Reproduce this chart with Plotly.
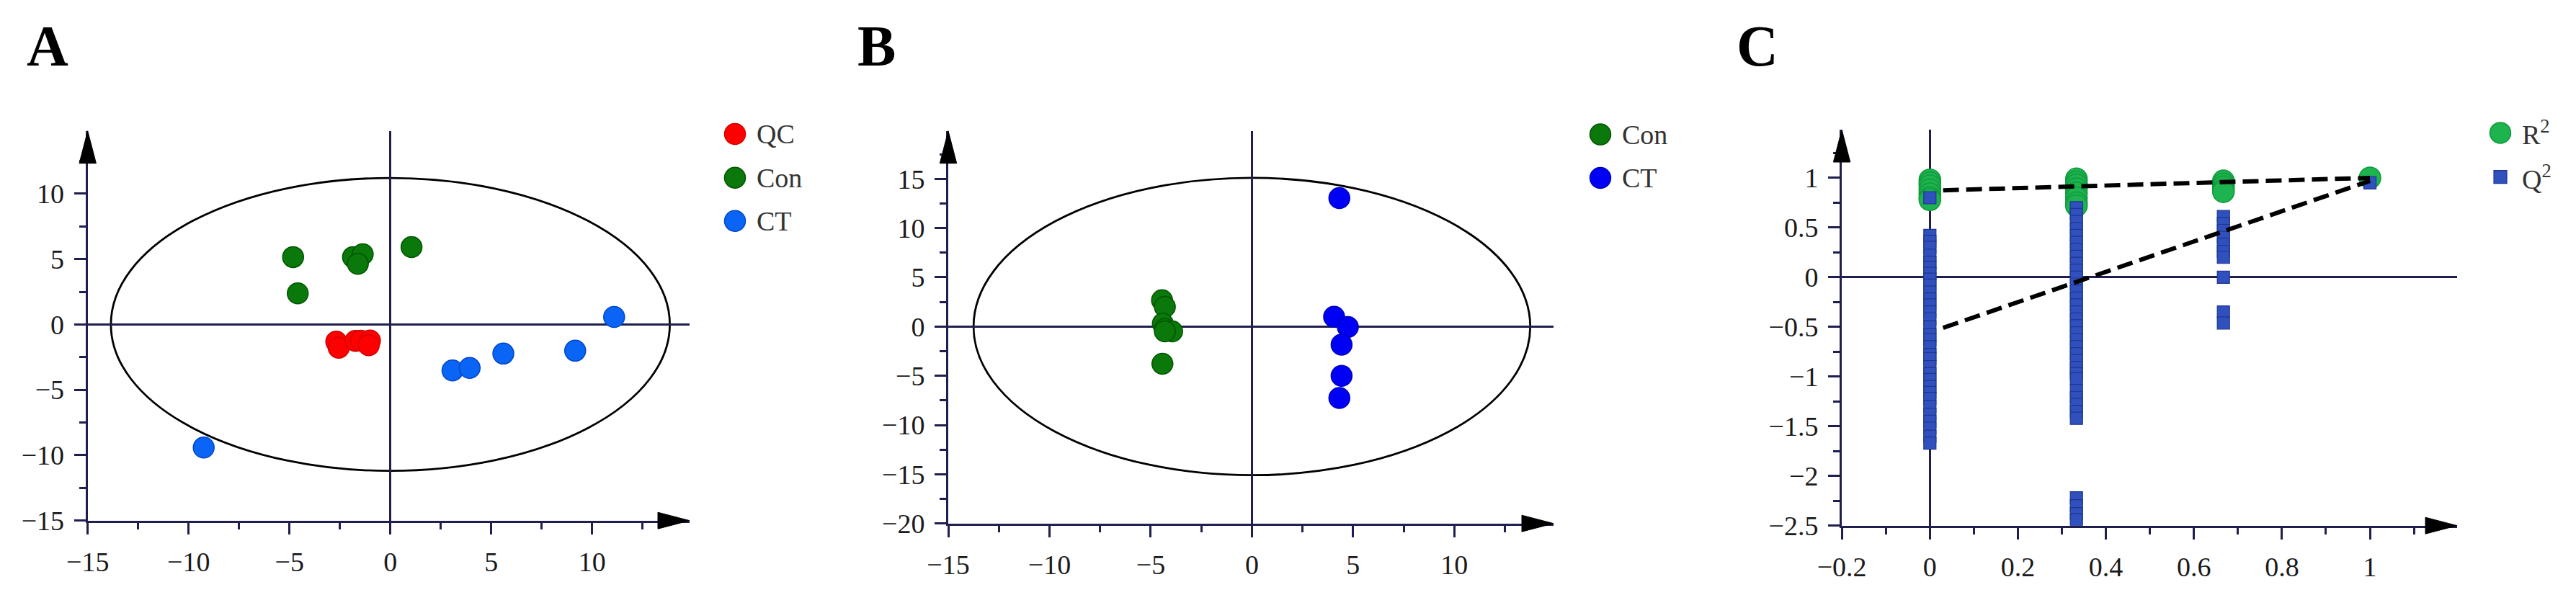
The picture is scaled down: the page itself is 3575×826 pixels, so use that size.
import plotly.graph_objects as go

W, H = 3575, 826

# ---------------- DATA ----------------
# Panel A (PCA scores)
qc_x = [-2.68, -2.56, -1.73, -1.45, -1.01, -1.07]
qc_y = [-1.32, -1.78, -1.26, -1.25, -1.23, -1.59]
conA_x = [-4.82, -4.59, -1.85, -1.37, -1.61, 1.05]
conA_y = [5.15, 2.38, 5.15, 5.37, 4.63, 5.92]
ctA_x = [-9.25, 3.08, 3.93, 5.60, 9.16, 11.09]
ctA_y = [-9.41, -3.52, -3.33, -2.23, -2.01, 0.57]
ellipseA = [13.85, 11.2]   # semi-axes (t1, t2)

# Panel B (OPLS-DA scores)
conB_x = [-4.44, -4.30, -4.40, -4.30, -3.94, -4.30, -4.42]
conB_y = [2.68, 2.00, 0.30, -0.25, -0.49, -0.49, -3.78]
ctB_x = [4.32, 4.06, 4.74, 4.43, 4.43, 4.32]
ctB_y = [13.05, 0.99, -0.05, -1.84, -5.00, -7.26]
ellipseB = [13.75, 15.1]

# Panel C (permutation test)
r2_x = [0, 0, 0, 0, 0, 0, 0,
        0.333, 0.333, 0.333, 0.333, 0.333, 0.333, 0.333, 0.333,
        0.667, 0.667, 0.667, 0.667, 0.667,
        1.0]
r2_y = [0.98, 0.95, 0.92, 0.88, 0.84, 0.80, 0.78,
        0.99, 0.96, 0.93, 0.89, 0.85, 0.80, 0.75, 0.72,
        0.97, 0.94, 0.91, 0.88, 0.86,
        1.00]
q2_x0 = [0.80, 0.42, 0.36, 0.30, 0.22, 0.15, 0.10, 0.04, -0.02, -0.08, -0.15,
         -0.22, -0.28, -0.35, -0.42, -0.50, -0.58, -0.63, -0.70, -0.78, -0.82,
         -0.90, -0.97, -1.03, -1.10, -1.16, -1.22, -1.30, -1.38, -1.45, -1.52,
         -1.60, -1.67]
q2_x333 = [0.70, 0.63, 0.56, 0.49, 0.42, 0.35, 0.28, 0.21, 0.14, 0.07, 0.00,
           -0.07, -0.14, -0.21, -0.28, -0.35, -0.42, -0.49, -0.56, -0.63, -0.70,
           -0.77, -0.84, -0.91, -0.97, -1.02, -1.14, -1.21, -1.28, -1.35, -1.42,
           -2.22, -2.30, -2.38, -2.44]
q2_x667 = [0.61, 0.54, 0.47, 0.40, 0.33, 0.26, 0.20, 0.00, -0.35, -0.46]
q2_x1 = [0.95]
q2_groups = [0.0, 0.333, 0.667, 1.0]
r2_line_x = [0.03, 1.0]
r2_line_y = [0.875, 1.0]
q2_line_x = [0.03, 1.0]
q2_line_y = [-0.51, 0.97]

# ---------------- STYLE ----------------
NAVY = "#1f1f4f"
SERIF = "Liberation Serif"
TICKFONT = dict(family=SERIF, size=38, color="#1a1a1a")

def px_x(p):
    return p / W

def px_y(p):
    return 1 - p / H

# panel geometry (pixels): x-domain, y-domain (top, bottom)
geo = {
    "A": dict(xd=(121.7, 957.0), yd=(181.7, 722.7), xr=[-15.0001, 14.83], yr=[-15.0001, 14.8],
              xdt=5, xmin=2.5, ydt=5, ymin=2.5),
    "B": dict(xd=(1316.0, 2156.0), yd=(181.7, 726.7), xr=[-15.0001, 14.9], yr=[-20.0001, 19.87],
              xdt=5, xmin=2.5, ydt=5, ymin=2.5),
    "C": dict(xd=(2556.1, 3410.0), yd=(180.0, 729.7), xr=[-0.2001, 1.198], yr=[-2.5001, 1.485],
              xdt=0.2, xmin=0.1, ydt=0.5, ymin=0.25),
}

fig = go.Figure()

def mk(color, line):
    return dict(size=29, color=color, line=dict(color=line, width=1.5))

# Panel A
fig.add_trace(go.Scatter(x=qc_x, y=qc_y, mode="markers", name="QC",
                         marker=mk("#ff0000", "#d40000"), xaxis="x", yaxis="y"))
fig.add_trace(go.Scatter(x=conA_x, y=conA_y, mode="markers", name="Con",
                         marker=mk("#0a780a", "#005500"), xaxis="x", yaxis="y"))
fig.add_trace(go.Scatter(x=ctA_x, y=ctA_y, mode="markers", name="CT",
                         marker=mk("#0a64f5", "#0048c8"), xaxis="x", yaxis="y"))
# Panel B
fig.add_trace(go.Scatter(x=conB_x, y=conB_y, mode="markers", name="Con",
                         marker=mk("#0a780a", "#005500"), xaxis="x2", yaxis="y2"))
fig.add_trace(go.Scatter(x=ctB_x, y=ctB_y, mode="markers", name="CT",
                         marker=mk("#0000f5", "#0000c0"), xaxis="x2", yaxis="y2"))
# Panel C
fig.add_trace(go.Scatter(x=r2_x, y=r2_y, mode="markers", name="R2",
                         marker=dict(size=30, color="#1db34f", line=dict(color="#0f9a3c", width=1.5)),
                         xaxis="x3", yaxis="y3"))
for gx, vals in zip(q2_groups, [q2_x0, q2_x333, q2_x667, q2_x1]):
    fig.add_trace(go.Scatter(x=[gx] * len(vals), y=vals, mode="markers", name="Q2",
                             marker=dict(size=17, symbol="square", color="#3050bd",
                                         line=dict(color="#1e3590", width=1.2)),
                             xaxis="x3", yaxis="y3"))
fig.add_trace(go.Scatter(x=r2_line_x, y=r2_line_y, mode="lines", name="R2 fit",
                         line=dict(color="black", width=6, dash="22px,10px"),
                         xaxis="x3", yaxis="y3"))
fig.add_trace(go.Scatter(x=q2_line_x, y=q2_line_y, mode="lines", name="Q2 fit",
                         line=dict(color="black", width=6, dash="22px,10px"),
                         xaxis="x3", yaxis="y3"))

def axis(dom_px, rng, dtick, mdt, anchor, is_x):
    if is_x:
        dom = [px_x(dom_px[0]), px_x(dom_px[1])]
    else:
        dom = [px_y(dom_px[1]), px_y(dom_px[0])]
    return dict(domain=dom, range=rng, anchor=anchor, showline=True, linecolor=NAVY,
                linewidth=3, ticks="outside", ticklen=16, tickwidth=3, tickcolor=NAVY,
                tick0=0, dtick=dtick, showgrid=False, zeroline=True, zerolinecolor=NAVY,
                zerolinewidth=2.5, tickfont=TICKFONT, ticklabelstandoff=6,
                automargin=False,
                minor=dict(ticks="outside", ticklen=9, tickwidth=2.5, tickcolor=NAVY,
                           tick0=0, dtick=mdt, showgrid=False),
                fixedrange=True)

layout = dict(width=W, height=H, margin=dict(l=0, r=0, t=0, b=0, pad=0, autoexpand=False),
              paper_bgcolor="white", plot_bgcolor="white", showlegend=False)
for i, key in enumerate(["A", "B", "C"]):
    g = geo[key]
    sx = "" if i == 0 else str(i + 1)
    layout["xaxis" + sx] = axis(g["xd"], g["xr"], g["xdt"], g["xmin"], "y" + sx, True)
    layout["yaxis" + sx] = axis(g["yd"], g["yr"], g["ydt"], g["ymin"], "x" + sx, False)
fig.update_layout(**layout)

shapes = []
# confidence ellipses
for sx, (a, b) in [("", ellipseA), ("2", ellipseB)]:
    shapes.append(dict(type="circle", xref="x" + sx, yref="y" + sx, x0=-a, x1=a, y0=-b, y1=b,
                       line=dict(color="black", width=2.8), layer="below"))

# axis arrowheads
for key in ["A", "B", "C"]:
    g = geo[key]
    xl, xrp = g["xd"]
    yt, yb = g["yd"]
    p = "M {} {} L {} {} L {} {} Z".format(px_x(xl), px_y(yt), px_x(xl - 11.7), px_y(yt + 45),
                                           px_x(xl + 11.7), px_y(yt + 45))
    shapes.append(dict(type="path", xref="paper", yref="paper", path=p,
                       fillcolor="black", line=dict(color="black", width=1)))
    p = "M {} {} L {} {} L {} {} Z".format(px_x(xrp), px_y(yb), px_x(xrp - 44), px_y(yb - 11.5),
                                           px_x(xrp - 44), px_y(yb + 11.5))
    shapes.append(dict(type="path", xref="paper", yref="paper", path=p,
                       fillcolor="black", line=dict(color="black", width=1)))

annotations = []
# panel letters
for lab, xpx in [("A", 35), ("B", 1188), ("C", 2408)]:
    annotations.append(dict(text="<b>" + lab + "</b>", xref="paper", yref="paper",
                            x=px_x(xpx), y=px_y(64), xanchor="left", yanchor="middle",
                            showarrow=False, font=dict(family=SERIF, size=80, color="black")))

# manual legends (circle / square symbols + text)
legend_items = [
    (1020, 186, "circle", "#ff0000", "#d40000", "QC"),
    (1020, 246.7, "circle", "#0a780a", "#005500", "Con"),
    (1020, 306.7, "circle", "#0a64f5", "#0048c8", "CT"),
    (2221, 186.6, "circle", "#0a780a", "#005500", "Con"),
    (2221, 247, "circle", "#0000f5", "#0000c0", "CT"),
    (3470, 184.4, "circle", "#1db34f", "#0f9a3c", "R<sup>2</sup>"),
    (3470, 245.6, "square", "#3050bd", "#1e3590", "Q<sup>2</sup>"),
]
for cx, cy, sym, col, lc, txt in legend_items:
    if sym == "circle":
        r = 14.5
        shapes.append(dict(type="circle", xref="paper", yref="paper",
                           x0=px_x(cx - r), x1=px_x(cx + r), y0=px_y(cy + r), y1=px_y(cy - r),
                           fillcolor=col, line=dict(color=lc, width=1.5)))
    else:
        r = 9
        shapes.append(dict(type="rect", xref="paper", yref="paper",
                           x0=px_x(cx - r), x1=px_x(cx + r), y0=px_y(cy + r), y1=px_y(cy - r),
                           fillcolor=col, line=dict(color=lc, width=1.2)))
    annotations.append(dict(text=txt, xref="paper", yref="paper", x=px_x(cx + 28), y=px_y(cy),
                            xanchor="left", yanchor="middle", showarrow=False,
                            font=dict(family=SERIF, size=38, color="#333333")))

fig.update_layout(shapes=shapes, annotations=annotations)
fig.write_html("out.html", config={"displayModeBar": False},
               post_script="document.body.style.margin='0';document.body.style.overflow='hidden';")
